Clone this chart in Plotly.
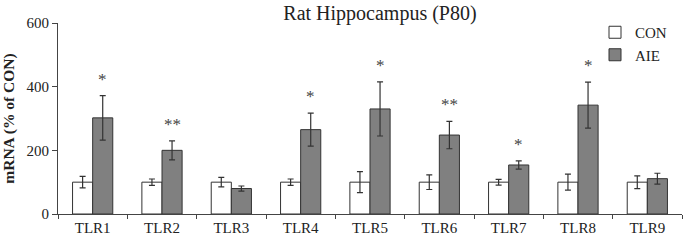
import plotly.graph_objects as go

categories = ["TLR1", "TLR2", "TLR3", "TLR4", "TLR5", "TLR6", "TLR7", "TLR8", "TLR9"]
con_values = [100, 100, 100, 100, 100, 100, 100, 100, 100]
con_errors = [18, 10, 15, 10, 33, 23, 9, 25, 20]
aie_values = [302, 200, 80, 265, 330, 248, 154, 342, 111]
aie_errors = [70, 30, 8, 52, 85, 43, 13, 72, 17]
stars = ["*", "**", "", "*", "*", "**", "*", "*", ""]

serif = "Liberation Serif"

fig = go.Figure()
fig.add_trace(go.Bar(
    name="CON", x=categories, y=con_values,
    error_y=dict(type="data", array=con_errors, color="#333333", thickness=1.2, width=3),
    marker=dict(color="white", line=dict(color="#333333", width=1)),
))
fig.add_trace(go.Bar(
    name="AIE", x=categories, y=aie_values,
    error_y=dict(type="data", array=aie_errors, color="#333333", thickness=1.2, width=3),
    marker=dict(color="#808080", line=dict(color="#333333", width=1)),
))

for i, s in enumerate(stars):
    if s:
        fig.add_annotation(
            x=categories[i], y=aie_values[i] + aie_errors[i], text=s,
            xshift=10, yshift=5, showarrow=False, yanchor="bottom",
            font=dict(family=serif, size=17, color="#444444"),
        )

fig.update_layout(
    width=686, height=241,
    margin=dict(l=58, r=4, t=23, b=27, autoexpand=False),
    paper_bgcolor="white", plot_bgcolor="white",
    barmode="group", bargap=0.42, bargroupgap=0,
    title=dict(text="Rat Hippocampus (P80)", x=380 / 686, xanchor="center",
               y=1 - 13 / 241, yanchor="middle",
               font=dict(family=serif, size=20, color="#222222")),
    font=dict(family=serif, size=15, color="#222222"),
    legend=dict(x=(595 - 58) / 624, y=1 - (16 - 23) / 191, xanchor="left", yanchor="top",
                bgcolor="rgba(0,0,0,0)", font=dict(family=serif, size=15),
                itemwidth=30, tracegroupgap=0),
    showlegend=True,
)
fig.update_xaxes(
    automargin=False,
    showline=True, linecolor="#444444", linewidth=1,
    ticks="outside", tickson="boundaries", ticklen=4, tickcolor="#444444",
    tickfont=dict(family=serif, size=15),
)
fig.update_yaxes(
    automargin=False,
    range=[0, 600], tickvals=[0, 200, 400, 600],
    showline=True, linecolor="#444444", linewidth=1,
    ticks="outside", ticklen=5, tickcolor="#444444",
    showgrid=False, zeroline=False,
    tickfont=dict(family=serif, size=15),
    title=dict(text="<b>mRNA (% of CON)</b>", font=dict(family=serif, size=15.5), standoff=14),
)

fig.write_html("out.html", config={"displayModeBar": False},
               post_script="document.body.style.margin='0';")
